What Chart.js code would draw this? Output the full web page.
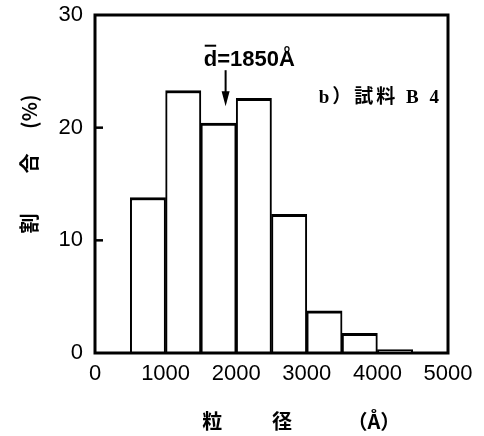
<!DOCTYPE html>
<html>
<head>
<meta charset="utf-8">
<script src="https://cdn.jsdelivr.net/npm/chart.js@4.4.0/dist/chart.umd.min.js"></script>
<style>
    html, body { margin: 0; padding: 0; background: #fff; }
    #wrap { width: 484px; height: 436px; position: relative; }
</style>
</head>
<body>
<div id="wrap"><canvas id="sizeChart"></canvas></div>
<script>
// particle size bins (centre of each 500 Å bin) and share of particles (%)
const binCenters = [750, 1250, 1750, 2250, 2750, 3250, 3750, 4250];
const sharePct = [13.8, 23.3, 20.4, 22.6, 12.3, 3.75, 1.75, 0.3];
const xTicks = [0, 1000, 2000, 3000, 4000, 5000];
const yTicks = [0, 10, 20, 30];
const meanSize = 1850;
const xTitleParts = ['粒', '径', '（Å）'];

const tickFont = { family: "'Liberation Sans', Arial, sans-serif", size: 22 };

// frame, inner tick marks and the notes on the plot
const framePlugin = {
    id: 'frame',
    afterDatasetsDraw(chart) {
        const { ctx, chartArea: a, scales } = chart;
        const x = scales.x, y = scales.y;
        ctx.save();
        ctx.strokeStyle = '#000';
        ctx.lineWidth = 3;
        ctx.strokeRect(a.left, a.top, a.right - a.left, a.bottom - a.top);

        // inward ticks on the left axis
        ctx.lineWidth = 2.5;
        yTicks.slice(1, -1).forEach(function(v) {
            const py = y.getPixelForValue(v);
            ctx.beginPath();
            ctx.moveTo(a.left, py);
            ctx.lineTo(a.left + 8, py);
            ctx.stroke();
        });

        // mean size label and arrow
        const mx = x.getPixelForValue(meanSize);
        ctx.fillStyle = '#000';
        ctx.font = "bold 22px 'Liberation Sans', Arial, sans-serif";
        ctx.textAlign = 'left';
        ctx.textBaseline = 'alphabetic';
        const tx = x.getPixelForValue(1540);
        const ty = y.getPixelForValue(25.5);
        ctx.fillText('d=1850Å', tx, ty);
        const dW = ctx.measureText('d').width;
        ctx.lineWidth = 2;
        ctx.beginPath();
        ctx.moveTo(tx + 1, ty - 20);
        ctx.lineTo(tx + dW - 1, ty - 20);
        ctx.stroke();

        const top = y.getPixelForValue(25.1);
        const tip = y.getPixelForValue(21.9);
        ctx.beginPath();
        ctx.moveTo(mx, top);
        ctx.lineTo(mx, tip - 12);
        ctx.stroke();
        ctx.beginPath();
        ctx.moveTo(mx - 4, tip - 15);
        ctx.lineTo(mx + 4, tip - 15);
        ctx.lineTo(mx, tip);
        ctx.closePath();
        ctx.fill();

        // sample name
        ctx.font = "bold 19px 'Liberation Serif', 'Noto Sans CJK JP', serif";
        ctx.letterSpacing = '3px';
        ctx.textBaseline = 'middle';
        ctx.fillText('b）試料 B 4', x.getPixelForValue(3170), y.getPixelForValue(22.6));
        ctx.letterSpacing = '0px';

        // x axis title, spread out as in the original
        ctx.font = "bold 20px 'Noto Sans CJK JP', sans-serif";
        ctx.textAlign = 'center';
        const titleY = a.bottom + 68;
        ctx.fillText(xTitleParts[0], x.getPixelForValue(1660), titleY);
        ctx.fillText(xTitleParts[1], x.getPixelForValue(2650), titleY);
        ctx.fillText(xTitleParts[2], x.getPixelForValue(3950), titleY);
        ctx.restore();
    }
};

new Chart(document.getElementById('sizeChart'), {
    type: 'bar',
    data: {
        datasets: [{
            data: binCenters.map(function(c, i) { return { x: c, y: sharePct[i] }; }),
            backgroundColor: '#fff',
            borderColor: '#000',
            borderWidth: { top: 3, left: 2, right: 2, bottom: 0 },
            barPercentage: 1,
            categoryPercentage: 1
        }]
    },
    options: {
        responsive: true,
        maintainAspectRatio: false,
        animation: false,
        layout: { padding: { left: 0, top: 15, right: 36, bottom: 0 } },
        plugins: {
            legend: { display: false },
            tooltip: { enabled: false }
        },
        scales: {
            x: {
                type: 'linear',
                offset: false,
                min: xTicks[0],
                max: xTicks[xTicks.length - 1],
                afterBuildTicks: function(s) { s.ticks = xTicks.map(function(v) { return { value: v }; }); },
                afterFit: function(s) { s.height = 83; s.paddingLeft = 0; s.paddingRight = 0; },
                grid: { display: false, drawTicks: false, offset: false },
                border: { display: false },
                ticks: {
                    color: '#000', font: tickFont, padding: 8, maxRotation: 0,
                    callback: function(v) { return String(v); }
                }
            },
            y: {
                min: yTicks[0],
                max: yTicks[yTicks.length - 1],
                afterBuildTicks: function(s) { s.ticks = yTicks.map(function(v) { return { value: v }; }); },
                afterFit: function(s) { s.width = 95; s.paddingTop = 0; s.paddingBottom = 0; },
                grid: { display: false, drawTicks: false },
                border: { display: false },
                ticks: { color: '#000', font: tickFont, padding: 12 },
                title: {
                    display: true,
                    text: '　　割　　合　 (%)',
                    color: '#000',
                    font: { family: "'Noto Sans CJK JP', sans-serif", size: 20, weight: 'bold' },
                    padding: { top: 17, bottom: 0 }
                }
            }
        }
    },
    plugins: [framePlugin]
});
</script>
</body>
</html>
